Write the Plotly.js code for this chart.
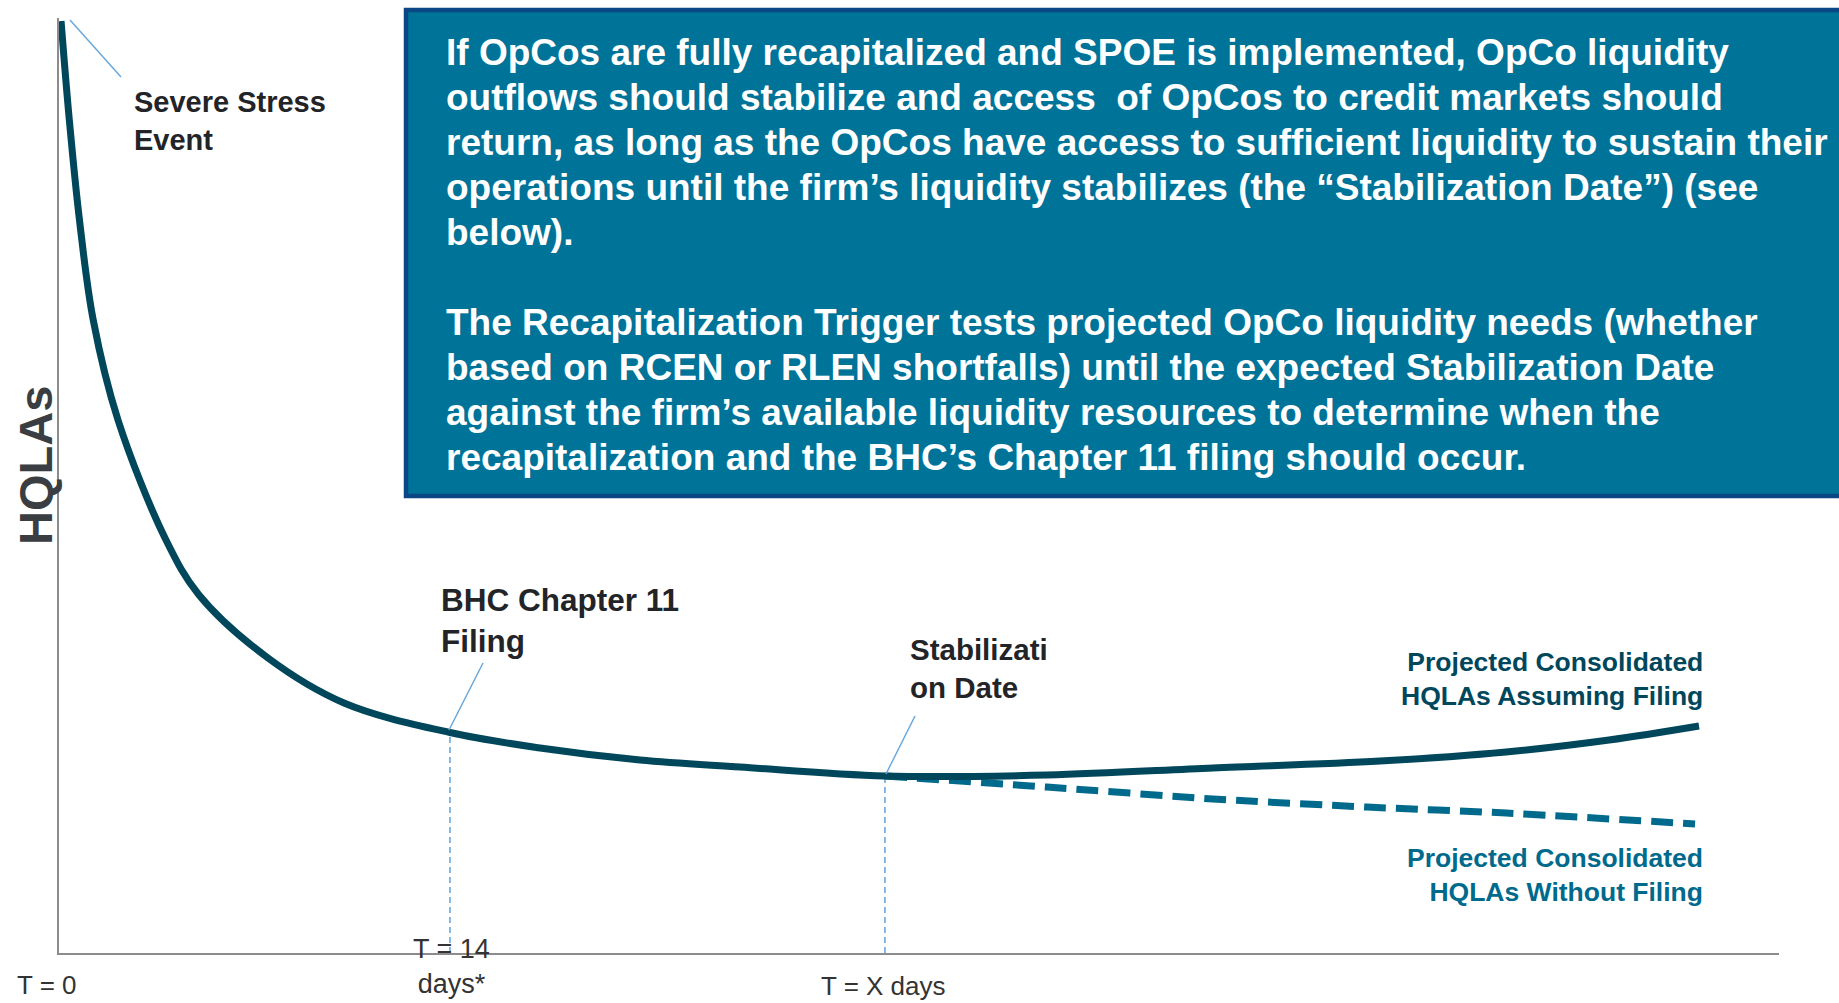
<!DOCTYPE html>
<html>
<head>
<meta charset="utf-8">
<script src="https://cdn.plot.ly/plotly-3.0.1.min.js"></script>
<style>
  html, body { margin: 0; padding: 0; background: #ffffff; }
  #chart { width: 1839px; height: 1003px; }
</style>
</head>
<body>
<div id="chart"></div>
<script>
// ---------- DATA ----------
// Projected consolidated HQLAs assuming the BHC Chapter 11 filing (solid curve)
const filingCurveX = [0.12, 0.60, 1.19, 1.99, 3.43, 6.22, 8.14, 12.15, 16.57, 22.73, 27.97, 33.78, 39.59, 48.02, 57.44, 67.09, 76.80, 84.13, 90.12, 95.35];
const filingCurveY = [99.68, 89.09, 78.40, 67.70, 57.01, 44.17, 38.29, 31.55, 26.74, 23.58, 21.93, 20.64, 19.89, 18.93, 19.04, 19.79, 20.53, 21.50, 22.78, 24.28];

// Projected consolidated HQLAs without filing (dashed, from the Stabilization Date)
const noFilingX = [48.02, 57.44, 67.09, 76.05, 84.13, 95.12];
const noFilingY = [18.93, 17.75, 16.47, 15.61, 14.97, 13.80];

// Key dates on the curve: BHC Chapter 11 filing, Stabilization Date
const eventNames = ['BHC Chapter 11 Filing', 'Stabilization Date'];
const eventX = [22.73, 48.02];
const eventY = [23.58, 18.93];

// Text
const axisLabelY = 'HQLAs';
const tickLabels = ['T = 0', 'T = 14<br>days*', 'T = X days'];
const calloutLabels = ['Severe Stress<br>Event', 'BHC Chapter 11<br>Filing', 'Stabilizati<br>on Date'];
const seriesLabels = ['Projected Consolidated<br>HQLAs Assuming Filing', 'Projected Consolidated<br>HQLAs Without Filing'];
const boxLines = [
  'If OpCos are fully recapitalized and SPOE is implemented, OpCo liquidity',
  'outflows should stabilize and access  of OpCos to credit markets should',
  'return, as long as the OpCos have access to sufficient liquidity to sustain their',
  'operations until the firm’s liquidity stabilizes (the “Stabilization Date”) (see',
  'below).',
  '',
  'The Recapitalization Trigger tests projected OpCo liquidity needs (whether',
  'based on RCEN or RLEN shortfalls) until the expected Stabilization Date',
  'against the firm’s available liquidity resources to determine when the',
  'recapitalization and the BHC’s Chapter 11 filing should occur.'
];

// ---------- STYLE / LAYOUT ----------
const W = 1839, H = 1003;
const M = { l: 59, r: 60, t: 18, b: 50 };
const PW = W - M.l - M.r, PH = H - M.t - M.b;
const X = px => (px - M.l) / PW;          // page pixel -> paper x
const Y = py => (H - M.b - py) / PH;      // page pixel -> paper y

const FONT = 'Liberation Sans, Arial, Helvetica, sans-serif';
const C_MAIN = '#00475c';
const C_DASH = '#006a8c';
const C_LEAD = '#6aa8dc';
const C_TXT = '#232427';

const traces = [];
// vertical dashed guide lines from each event down to the time axis
eventX.forEach((ex, i) => {
  traces.push({
    type: 'scatter', mode: 'lines', name: eventNames[i],
    x: [ex, ex], y: [0, eventY[i]],
    line: { color: '#5ea3dc', width: 1.5, dash: '6px,4px' },
    hoverinfo: 'skip'
  });
});
traces.push({
  type: 'scatter', mode: 'lines', name: 'Projected Consolidated HQLAs Without Filing',
  x: noFilingX, y: noFilingY,
  line: { color: C_DASH, width: 7, dash: '22px,10px', shape: 'spline', smoothing: 0.6 },
  hoverinfo: 'skip'
});
traces.push({
  type: 'scatter', mode: 'lines', name: 'Projected Consolidated HQLAs Assuming Filing',
  x: filingCurveX, y: filingCurveY,
  line: { color: C_MAIN, width: 7, shape: 'spline', smoothing: 1 },
  hoverinfo: 'skip'
});

const ann = [];
function addText(text, px, py, opts) {
  ann.push(Object.assign({
    xref: 'paper', yref: 'paper', x: X(px), y: Y(py),
    text: text, showarrow: false, xanchor: 'left', yanchor: 'middle', align: 'left'
  }, opts));
}
// info box lines
boxLines.forEach((t, i) => {
  if (!t) return;
  addText(t, 444, 52.5 + 45 * i, { font: { family: FONT, size: 37, color: '#ffffff', weight: 'bold' } });
});
// callouts
addText(calloutLabels[0], 132, 121.4, { font: { family: FONT, size: 29, color: C_TXT, weight: 'bold' } });
addText(calloutLabels[1], 439, 620.5, { font: { family: FONT, size: 31.5, color: C_TXT, weight: 'bold' } });
addText(calloutLabels[2], 908, 668.5, { font: { family: FONT, size: 29.5, color: C_TXT, weight: 'bold' } });
// series labels
addText(seriesLabels[0], 1705, 678.5, { xanchor: 'right', align: 'right', font: { family: FONT, size: 26.5, color: C_MAIN, weight: 'bold' } });
addText(seriesLabels[1], 1705, 875, { xanchor: 'right', align: 'right', font: { family: FONT, size: 26.5, color: C_DASH, weight: 'bold' } });
// y axis label
addText(axisLabelY, 35, 466, { xanchor: 'center', textangle: -90, font: { family: FONT, size: 47, color: '#3a3d41', weight: 'bold' } });
// time labels
addText(tickLabels[0], 47, 985, { xanchor: 'center', align: 'center', font: { family: FONT, size: 26, color: '#333333' } });
addText(tickLabels[1], 451, 967, { xanchor: 'center', align: 'center', font: { family: FONT, size: 27, color: '#333333' } });
addText(tickLabels[2], 883, 986, { xanchor: 'center', align: 'center', font: { family: FONT, size: 26, color: '#333333' } });

const shapes = [
  // info box
  { type: 'rect', xref: 'paper', yref: 'paper', x0: X(406), x1: X(1860), y0: Y(496), y1: Y(10),
    line: { color: '#0b4785', width: 4.5 }, fillcolor: '#007399', layer: 'above' },
  // leader lines for callouts
  { type: 'line', xref: 'paper', yref: 'paper', x0: X(70), y0: Y(20), x1: X(121), y1: Y(77), line: { color: C_LEAD, width: 1.5 } },
  { type: 'line', xref: 'paper', yref: 'paper', x0: X(483), y0: Y(663), x1: X(449), y1: Y(730), line: { color: C_LEAD, width: 1.5 } },
  { type: 'line', xref: 'paper', yref: 'paper', x0: X(915), y0: Y(716), x1: X(886), y1: Y(774), line: { color: C_LEAD, width: 1.5 } }
];

const axisStyle = {
  range: [0, 100], showgrid: false, zeroline: false, showticklabels: false, ticks: '',
  showline: true, linecolor: '#8c8c8c', linewidth: 2, fixedrange: true
};

const layout = {
  width: W, height: H,
  margin: M,
  paper_bgcolor: '#ffffff', plot_bgcolor: '#ffffff',
  showlegend: false, hovermode: false,
  font: { family: FONT },
  xaxis: Object.assign({}, axisStyle),
  yaxis: Object.assign({}, axisStyle),
  shapes: shapes,
  annotations: ann
};

Plotly.newPlot('chart', traces, layout, { displayModeBar: false, staticPlot: true });
</script>
</body>
</html>
